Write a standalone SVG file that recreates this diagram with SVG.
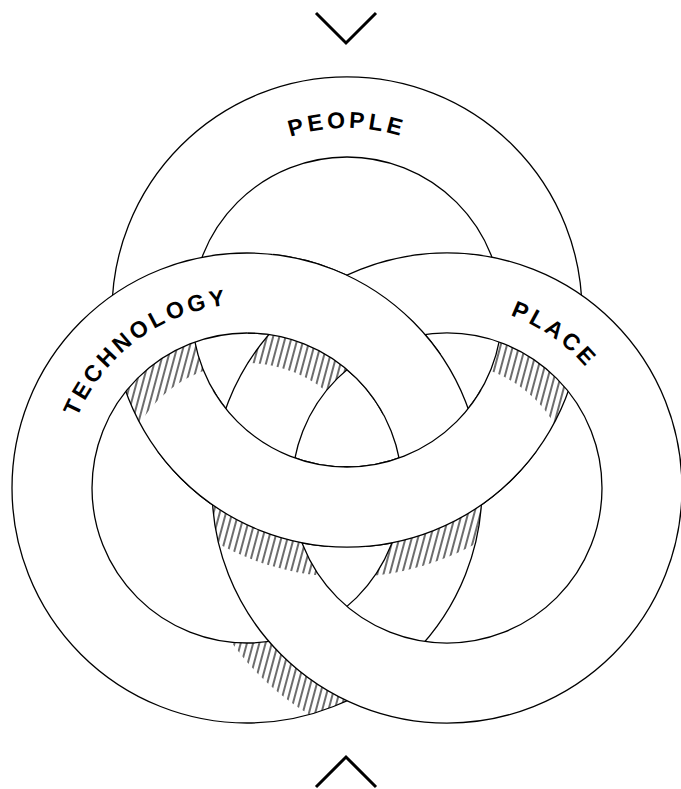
<svg xmlns="http://www.w3.org/2000/svg" xmlns:xlink="http://www.w3.org/1999/xlink" width="681" height="789" viewBox="0 0 681 789">
<defs>
<style>
.ring{fill:#fff;fill-rule:evenodd;stroke:#000;stroke-width:1.3}
.lbl{font-family:"Liberation Sans",Arial,sans-serif;font-weight:bold;font-size:23px;letter-spacing:3.6px;fill:#000}
.chev{fill:none;stroke:#000;stroke-width:3}
.hl{stroke:#000;stroke-width:1.15}
</style>
<path id="ringP" class="ring" d="M112,312 a235,235 0 1,0 470,0 a235,235 0 1,0 -470,0 Z M192,312 a155,155 0 1,0 310,0 a155,155 0 1,0 -310,0 Z"/>
<path id="ringT" class="ring" d="M12,488 a235,235 0 1,0 470,0 a235,235 0 1,0 -470,0 Z M92,488 a155,155 0 1,0 310,0 a155,155 0 1,0 -310,0 Z"/>
<path id="ringL" class="ring" d="M212,488 a235,235 0 1,0 470,0 a235,235 0 1,0 -470,0 Z M292,488 a155,155 0 1,0 310,0 a155,155 0 1,0 -310,0 Z"/>
<path id="arcP" d="M187.65,220 A184,184 0 0 1 506.35,220"/>
<path id="arcT" d="M64.18,508.83 A184,184 0 0 1 320.37,319.26"/>
<path id="arcL" d="M369.24,321.24 A184,184 0 0 1 630.30,504.04"/>
<pattern id="hatch" patternUnits="userSpaceOnUse" width="6" height="20" patternTransform="rotate(15)">
<line class="hl" x1="3" y1="-1" x2="3" y2="21"/>
</pattern>
<clipPath id="cPband"><path clip-rule="evenodd" d="M112,312 a235,235 0 1,0 470,0 a235,235 0 1,0 -470,0 Z M192,312 a155,155 0 1,0 310,0 a155,155 0 1,0 -310,0 Z"/></clipPath>
<clipPath id="cTband"><path clip-rule="evenodd" d="M12,488 a235,235 0 1,0 470,0 a235,235 0 1,0 -470,0 Z M92,488 a155,155 0 1,0 310,0 a155,155 0 1,0 -310,0 Z"/></clipPath>
<clipPath id="cLband"><path clip-rule="evenodd" d="M212,488 a235,235 0 1,0 470,0 a235,235 0 1,0 -470,0 Z M292,488 a155,155 0 1,0 310,0 a155,155 0 1,0 -310,0 Z"/></clipPath>
<clipPath id="cTin"><path clip-rule="evenodd" d="M92,488 a155,155 0 1,0 310,0 a155,155 0 1,0 -310,0 Z M122,488 a125,125 0 1,0 250,0 a125,125 0 1,0 -250,0 Z"/></clipPath>
<clipPath id="cLin"><path clip-rule="evenodd" d="M292,488 a155,155 0 1,0 310,0 a155,155 0 1,0 -310,0 Z M322,488 a125,125 0 1,0 250,0 a125,125 0 1,0 -250,0 Z"/></clipPath>
<clipPath id="cPout"><path clip-rule="evenodd" d="M82,312 a265,265 0 1,0 530,0 a265,265 0 1,0 -530,0 Z M112,312 a235,235 0 1,0 470,0 a235,235 0 1,0 -470,0 Z"/></clipPath>
<clipPath id="cLout"><path clip-rule="evenodd" d="M182,488 a265,265 0 1,0 530,0 a265,265 0 1,0 -530,0 Z M212,488 a235,235 0 1,0 470,0 a235,235 0 1,0 -470,0 Z"/></clipPath>
<clipPath id="cLL"><circle cx="252" cy="482" r="100"/></clipPath>
<clipPath id="cLR"><circle cx="442" cy="482" r="100"/></clipPath>
<clipPath id="cTop"><circle cx="347" cy="321" r="100"/></clipPath>
</defs>

<g id="arrows">
<path class="chev" d="M316,13 L346,43 L376,13"/>
<path class="chev" d="M316,787 L346,757 L376,787"/>
</g>

<g id="people">
<use xlink:href="#ringP"/>
<text class="lbl" text-anchor="middle"><textPath xlink:href="#arcP" startOffset="50%">PEOPLE</textPath></text>
</g>

<g id="technology">
<use xlink:href="#ringT"/>
<text class="lbl" text-anchor="middle"><textPath xlink:href="#arcT" startOffset="50%">TECHNOLOGY</textPath></text>
</g>

<g id="place">
<use xlink:href="#ringL"/>
<text class="lbl" text-anchor="middle"><textPath xlink:href="#arcL" startOffset="50%">PLACE</textPath></text>
</g>

<g id="weave">
<use xlink:href="#ringP" clip-path="url(#cLL)"/>
<use xlink:href="#ringP" clip-path="url(#cLR)"/>
<use xlink:href="#ringT" clip-path="url(#cTop)"/>
</g>

<g id="shadows">
<g clip-path="url(#cPband)"><g clip-path="url(#cTin)"><rect x="100" y="330" width="110" height="110" fill="url(#hatch)"/></g></g>
<g clip-path="url(#cLband)"><g clip-path="url(#cTin)"><rect x="240" y="320" width="120" height="80" fill="url(#hatch)"/></g></g>
<g clip-path="url(#cPband)"><g clip-path="url(#cLin)"><rect x="480" y="330" width="120" height="110" fill="url(#hatch)"/></g></g>
<g clip-path="url(#cLband)"><g clip-path="url(#cPout)"><rect x="195" y="495" width="135" height="105" fill="url(#hatch)"/></g></g>
<g clip-path="url(#cTband)"><g clip-path="url(#cPout)"><rect x="365" y="495" width="135" height="105" fill="url(#hatch)"/></g></g>
<g clip-path="url(#cTband)"><g clip-path="url(#cLout)"><rect x="220" y="630" width="140" height="90" fill="url(#hatch)"/></g></g>
</g>
</svg>
